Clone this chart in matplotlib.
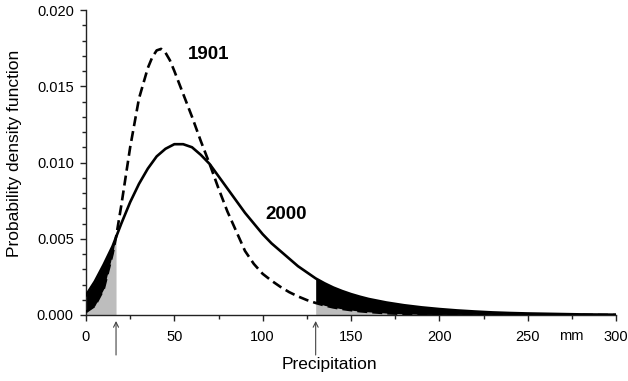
import matplotlib
matplotlib.use("Agg")
import matplotlib.pyplot as plt
import numpy as np
from matplotlib.ticker import MultipleLocator, FormatStrFormatter
from matplotlib.transforms import blended_transform_factory

plt.rcParams['font.family'] = ['Liberation Sans', 'DejaVu Sans']

# Precipitation (mm) and probability density, year 2000 (solid)
x_2000 = [0, 5, 10, 15, 17, 20, 25, 30, 35, 40, 45, 50, 55, 60, 65, 70, 75, 80, 85, 90,
          95, 100, 105, 110, 115, 120, 125, 130, 135, 140, 145, 150, 155, 160,
          170, 180, 190, 200, 210, 220, 230, 240, 250, 260, 270, 280, 290, 300]
pdf_2000 = [0.0013, 0.0022, 0.0033, 0.0045, 0.0051, 0.0060, 0.0074, 0.0086, 0.0096, 0.0104,
            0.0109, 0.0112, 0.0112, 0.0110, 0.0105, 0.0099, 0.0091, 0.0083, 0.0075, 0.0067,
            0.0060, 0.0053, 0.0047, 0.0042, 0.0037, 0.0032, 0.0028, 0.0024, 0.00208, 0.0018,
            0.00157, 0.00137, 0.0012, 0.00105,
            0.00082, 0.00064, 0.00050, 0.00039, 0.00030, 0.00023, 0.00017, 0.00013, 0.00010,
            0.00008, 0.00006, 0.00004, 0.00003, 0.00002]

# Precipitation (mm) and probability density, year 1901 (dashed)
x_1901 = [0, 5, 10, 15, 17, 20, 25, 30, 35, 37.5, 40, 42.5, 45, 47.5, 50, 55, 60, 65, 70,
          75, 80, 85, 90, 95, 100, 105, 110, 115, 120, 125, 130, 135, 140, 145, 150, 155, 160,
          170, 180, 190, 200, 210, 220, 230, 240, 250, 260, 270, 280, 290, 300]
pdf_1901 = [0.0002, 0.0006, 0.0017, 0.0040, 0.0051, 0.0072, 0.0110, 0.0142, 0.0162, 0.0169,
            0.01735, 0.01745, 0.0172, 0.0167, 0.0160, 0.0145, 0.0130, 0.0114, 0.0099,
            0.0083, 0.0068, 0.0055, 0.0042, 0.00335, 0.0027, 0.00225, 0.00185, 0.0015, 0.00122,
            0.00098, 0.00079, 0.00063, 0.00050, 0.00040, 0.00032, 0.00025, 0.00020,
            0.00012, 0.00007, 0.00004, 0.00002, 0.00001, 0.000005, 0.0, 0.0, 0.0,
            0.0, 0.0, 0.0, 0.0, 0.0]

# thresholds (arrows / shaded tails)
low_thr = 17
high_thr = 130

x_ticks = [0, 50, 100, 150, 200, 250, 300]
y_ticks = [0.000, 0.005, 0.010, 0.015, 0.020]

x20 = np.array(x_2000, dtype=float)
y20 = np.array(pdf_2000)
x19 = np.array(x_1901, dtype=float)
y19 = np.array(pdf_1901)

# shading uses the points common to both series
common = np.intersect1d(x20, x19)
s20 = y20[np.isin(x20, common)]
s19 = y19[np.isin(x19, common)]
lo = np.minimum(s19, s20)
hi = np.maximum(s19, s20)

fig = plt.figure(figsize=(6.28, 3.81), dpi=100)
ax = fig.add_axes([86/628, 1-315/381, 530/628, 305/381])

gray = '#bdbdbd'
for mask in (common <= low_thr, common >= high_thr):
    ax.fill_between(common, 0, lo, where=mask, color=gray, lw=0, zorder=1)
    ax.fill_between(common, lo, hi, where=mask, color='black', lw=0, zorder=1)

ax.plot(x20, y20, color='black', lw=1.9, zorder=3, solid_joinstyle='round')
ax.plot(x19, y19, color='black', lw=1.9, dashes=(3.8, 1.9), zorder=3)

ax.set_xlim(0, 300)
ax.set_ylim(0, 0.020)
ax.set_xticks(x_ticks)
ax.set_yticks(y_ticks)
ax.yaxis.set_major_formatter(FormatStrFormatter('%.3f'))
ax.xaxis.set_minor_locator(MultipleLocator(25))
ax.yaxis.set_minor_locator(MultipleLocator(0.001))

for s in ('top', 'right'):
    ax.spines[s].set_visible(False)
for s in ('left', 'bottom'):
    ax.spines[s].set_linewidth(1.0)
    ax.spines[s].set_color('#222222')

ax.tick_params(axis='both', which='major', direction='out', length=4.3, width=1.0,
               labelsize=10.5, color='#222222')
ax.tick_params(axis='x', which='major', pad=6.5)
ax.tick_params(axis='y', which='major', pad=4.5)
ax.tick_params(axis='both', which='minor', direction='out', length=2.8, width=1.0,
               color='#222222')

ax.set_xlabel('Precipitation', fontsize=12.5)
ax.xaxis.set_label_coords((329-86)/530, -(357-315)/305)
ax.set_ylabel('Probability density function', fontsize=12.5)
ax.yaxis.set_label_coords(-(86-22)/530, (315-153.5)/305)

trans = blended_transform_factory(ax.transData, ax.transAxes)
ax.text(274.6, -(336.5-315)/305, 'mm', transform=trans, ha='center', va='center',
        fontsize=10.5, clip_on=False)

ax.text(69.6, 0.0171, '1901', fontsize=13.5, fontweight='bold', ha='center', va='center')
ax.text(113.3, 0.0066, '2000', fontsize=13.5, fontweight='bold', ha='center', va='center')

for xv in (low_thr, high_thr):
    ax.annotate('', xy=(xv, -(321-315)/305), xytext=(xv, -(355-315)/305),
                xycoords=trans, textcoords=trans,
                arrowprops=dict(arrowstyle='->', color='#444444', lw=0.8,
                                mutation_scale=9, shrinkA=0, shrinkB=0),
                annotation_clip=False)

fig.savefig('out.png', dpi=100)
